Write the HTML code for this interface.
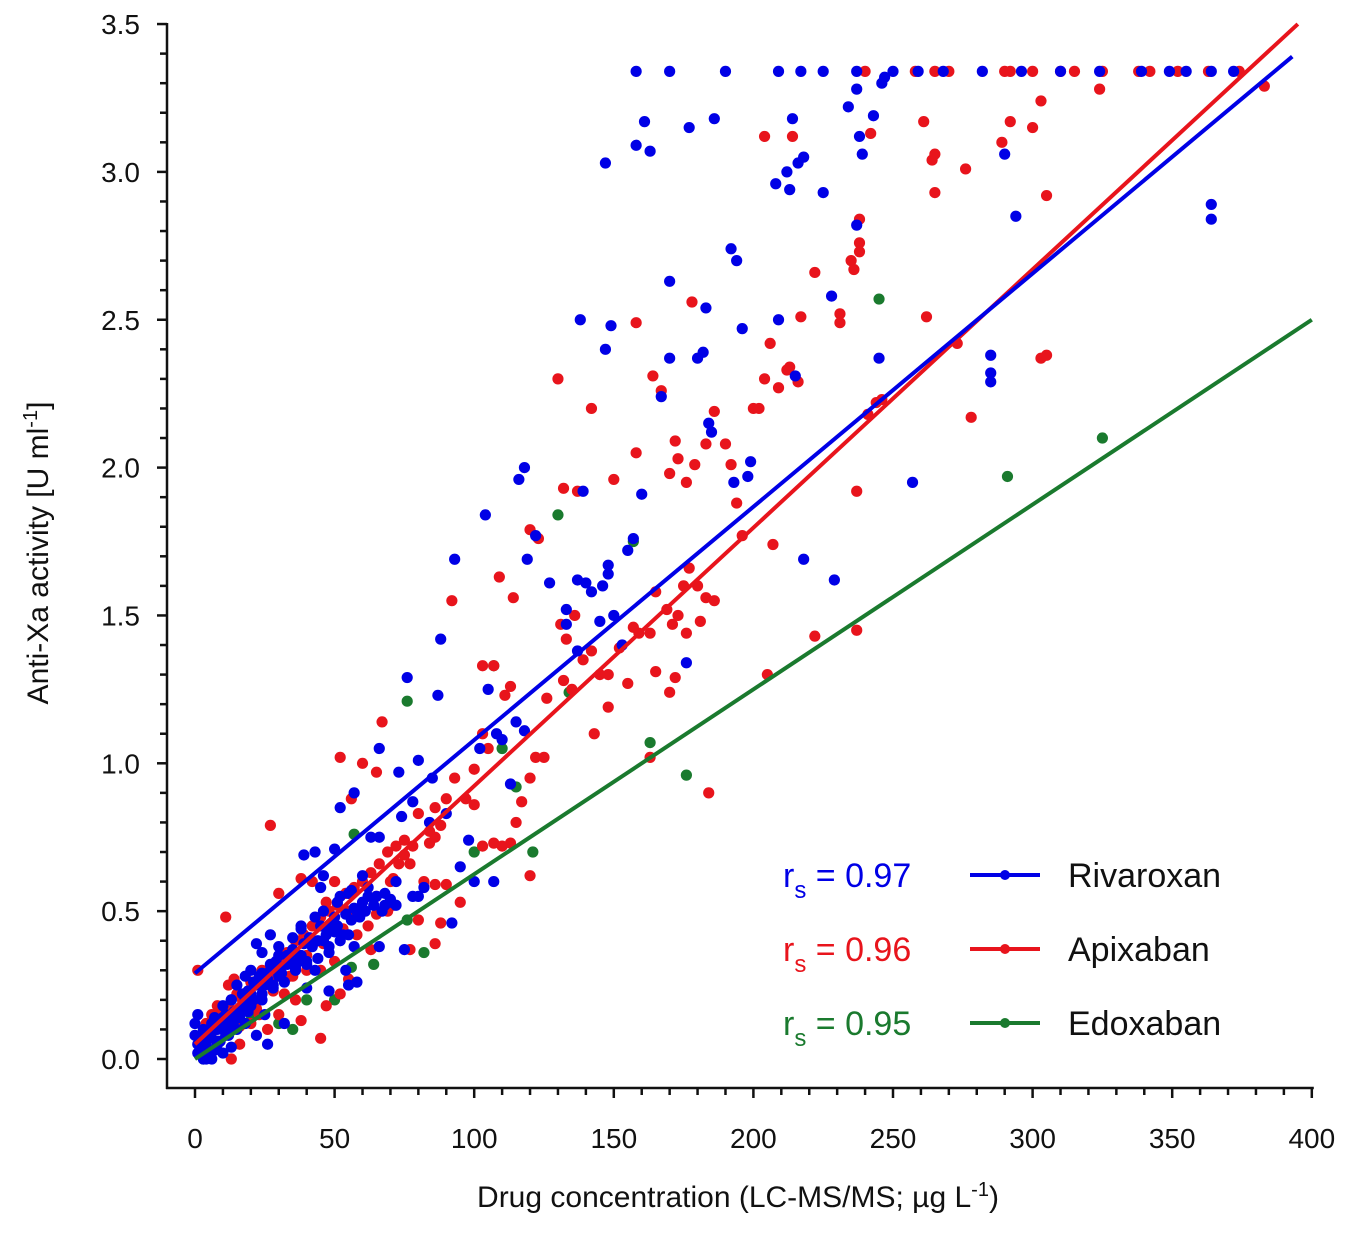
<!DOCTYPE html>
<html><head><meta charset="utf-8">
<style>
html,body{margin:0;padding:0;background:#fff;}
svg text{font-family:"Liberation Sans",Arial,sans-serif;}
</style></head>
<body>
<svg id="chart" width="1350" height="1229" viewBox="0 0 1350 1229" xmlns="http://www.w3.org/2000/svg">
<g id="marks"></g>
<g id="axes"></g>
<text transform="translate(48,553) rotate(-90)" text-anchor="middle" font-size="30" fill="#111">Anti-Xa activity [U ml<tspan baseline-shift="super" font-size="20">-1</tspan>]</text>
<text x="738" y="1207" text-anchor="middle" font-size="30" fill="#111">Drug concentration (LC-MS/MS; µg L<tspan baseline-shift="super" font-size="20">-1</tspan>)</text>
<g id="legend"></g>
</svg>
<script>
const xTicks=[0,50,100,150,200,250,300,350,400];
const yTicks=[0.0,0.5,1.0,1.5,2.0,2.5,3.0,3.5];
const seriesNames=["Rivaroxan","Apixaban","Edoxaban"];
const seriesR=["0.97","0.96","0.95"];
const colors=["#0000e6","#e8141c","#1a7a2e"];
// regression lines: [x0,y0,x1,y1]
const rivaLine=[0,0.29,393,3.39];
const apixLine=[0,0.05,395,3.5];
const edoxLine=[0,0.0,400,2.5];
const rivaX=[158,170,190,209,217,225,237,250,259,268,282,296,310,324,339,349,355,364,372,
158,161,163,147,177,186,214,212,216,218,213,225,208,234,237,238,239,237,243,246,247,290,294,364,364,285,285,285,245,257,229,218,228,215,209,196,192,194,199,198,193,170,167,170,180,182,183,185,184,138,147,149,118,116,119,104,122,127,139,137,140,142,146,148,148,155,157,160,150,145,153,137,133,133,176,93,88,87,76,102,105,108,110,115,118,113,85,80,73,66,57,52,50,43,39,46,45,63,66,74,78,84,90,92,100,107,98,95,60,62,65,68,70,72,55,52,58,50,45,47,42,38,35,30,27,24,22,20,18,30,33,36,40,43,48,52,55,57,40,48,55,58,54,15,10,13,16,20,24,28,25,32,6,3,1,2,4,7,9,11,13,5,8,12,0,0,1,3,6,10,15,18,22,26,66,75,78,
2,4,6,8,10,12,14,16,18,20,22,24,26,28,30,32,34,36,38,40,42,44,46,48,50,53,56,59,61,64,67,70,3,5,7,9,11,13,17,19,21,23,25,27,29,31,33,35,37,39,41,44,47,49,51,54,57,60,62,1,3,5,8,10,12,14,17,19,21,24,27,30,35,38,43,46,51,56,68,72,80,82];
const rivaY=[3.34,3.34,3.34,3.34,3.34,3.34,3.34,3.34,3.34,3.34,3.34,3.34,3.34,3.34,3.34,3.34,3.34,3.34,3.34,
3.09,3.17,3.07,3.03,3.15,3.18,3.18,3.0,3.03,3.05,2.94,2.93,2.96,3.22,3.28,3.12,3.06,2.82,3.19,3.3,3.32,3.06,2.85,2.89,2.84,2.38,2.32,2.29,2.37,1.95,1.62,1.69,2.58,2.31,2.5,2.47,2.74,2.7,2.02,1.97,1.95,2.63,2.24,2.37,2.37,2.39,2.54,2.12,2.15,2.5,2.4,2.48,2.0,1.96,1.69,1.84,1.77,1.61,1.92,1.62,1.61,1.58,1.6,1.67,1.64,1.72,1.76,1.91,1.5,1.48,1.4,1.38,1.52,1.47,1.34,1.69,1.42,1.23,1.29,1.05,1.25,1.1,1.08,1.14,1.11,0.93,0.95,1.01,0.97,1.05,0.9,0.85,0.71,0.7,0.69,0.62,0.58,0.75,0.75,0.82,0.87,0.8,0.83,0.46,0.6,0.6,0.74,0.65,0.62,0.58,0.55,0.56,0.54,0.52,0.56,0.55,0.5,0.48,0.45,0.42,0.39,0.45,0.37,0.38,0.42,0.36,0.39,0.3,0.28,0.28,0.32,0.31,0.33,0.3,0.36,0.4,0.42,0.38,0.24,0.23,0.25,0.26,0.3,0.25,0.18,0.2,0.15,0.22,0.2,0.25,0.15,0.12,0.12,0.1,0.05,0.02,0.0,0.03,0.06,0.08,0.04,0.07,0.1,0.12,0.08,0.12,0.15,0.0,0.0,0.02,0.1,0.12,0.08,0.05,0.38,0.37,0.55,
0.04,0.05,0.09,0.06,0.12,0.1,0.16,0.14,0.2,0.18,0.25,0.22,0.27,0.24,0.3,0.26,0.33,0.3,0.35,0.32,0.38,0.34,0.4,0.38,0.43,0.42,0.47,0.48,0.5,0.52,0.5,0.53,0.07,0.03,0.14,0.11,0.15,0.2,0.18,0.23,0.2,0.28,0.25,0.3,0.33,0.29,0.35,0.36,0.33,0.39,0.41,0.4,0.44,0.46,0.45,0.49,0.51,0.53,0.55,0.02,0.04,0.1,0.05,0.14,0.08,0.13,0.22,0.16,0.26,0.29,0.32,0.35,0.41,0.44,0.48,0.5,0.53,0.57,0.52,0.6,0.55,0.58];
const apixX=[240,258,265,270,290,292,300,310,315,325,338,342,352,363,374,383,324,
303,292,300,261,264,265,265,276,289,305,242,214,204,238,238,238,236,235,231,231,222,217,212,213,216,206,204,209,200,202,190,192,194,186,183,178,179,172,176,170,173,164,167,158,158,150,142,130,137,132,123,120,114,109,92,107,103,111,113,126,132,135,131,133,136,139,142,145,148,152,157,159,165,169,173,175,177,180,181,183,186,171,176,163,155,165,170,163,184,172,148,143,125,122,120,117,115,120,113,107,110,103,100,97,100,103,105,93,90,86,88,84,86,80,78,75,73,70,71,69,65,82,86,90,88,86,95,80,77,52,67,65,60,56,50,47,27,11,30,38,42,55,62,58,63,50,45,40,35,32,28,24,20,17,14,12,8,6,4,2,5,13,16,20,30,38,45,26,47,52,55,23,36,10,1,237,237,222,205,207,196,241,244,246,262,273,278,303,305,
3,6,9,12,15,18,21,24,27,30,33,36,39,42,45,48,51,54,57,60,63,66,69,72,75,4,8,16,22,28,34,40,46,53,59,65,71,77,84];
const apixY=[3.34,3.34,3.34,3.34,3.34,3.34,3.34,3.34,3.34,3.34,3.34,3.34,3.34,3.34,3.34,3.29,3.28,
3.24,3.17,3.15,3.17,3.04,3.06,2.93,3.01,3.1,2.92,3.13,3.12,3.12,2.84,2.76,2.73,2.67,2.7,2.52,2.49,2.66,2.51,2.33,2.34,2.29,2.42,2.3,2.27,2.2,2.2,2.08,2.01,1.88,2.19,2.08,2.56,2.01,2.09,1.95,1.98,2.03,2.31,2.26,2.49,2.05,1.96,2.2,2.3,1.92,1.93,1.76,1.79,1.56,1.63,1.55,1.33,1.33,1.23,1.26,1.22,1.28,1.25,1.47,1.42,1.5,1.35,1.38,1.3,1.3,1.39,1.46,1.44,1.58,1.52,1.5,1.6,1.66,1.6,1.48,1.56,1.55,1.47,1.44,1.44,1.27,1.31,1.24,1.02,0.9,1.29,1.19,1.1,1.02,1.02,0.95,0.87,0.8,0.62,0.73,0.73,0.72,0.72,0.86,0.88,0.98,1.1,1.05,0.95,0.88,0.85,0.79,0.77,0.75,0.83,0.72,0.69,0.66,0.6,0.52,0.5,0.49,0.6,0.59,0.59,0.46,0.39,0.53,0.47,0.37,1.02,1.14,0.97,1.0,0.88,0.6,0.53,0.79,0.48,0.56,0.61,0.6,0.5,0.45,0.42,0.37,0.33,0.3,0.3,0.28,0.22,0.27,0.29,0.26,0.2,0.27,0.25,0.18,0.15,0.12,0.06,0.02,0.0,0.05,0.12,0.15,0.13,0.07,0.1,0.18,0.22,0.27,0.15,0.2,0.1,0.3,1.92,1.45,1.43,1.3,1.74,1.77,2.18,2.22,2.23,2.51,2.42,2.17,2.37,2.38,
0.08,0.12,0.16,0.18,0.22,0.2,0.26,0.3,0.31,0.34,0.36,0.4,0.42,0.45,0.48,0.5,0.52,0.56,0.58,0.6,0.63,0.66,0.7,0.72,0.74,0.03,0.06,0.11,0.17,0.23,0.28,0.35,0.39,0.44,0.5,0.55,0.61,0.66,0.73];
const edoxX=[245,325,291,157,130,163,176,76,107,115,121,82,76,64,57,50,56,35,30,20,8,3,12,40,60,110,134,100];
const edoxY=[2.57,2.1,1.97,1.75,1.84,1.07,0.96,1.21,1.33,0.92,0.7,0.36,0.47,0.32,0.76,0.2,0.31,0.1,0.12,0.15,0.05,0.0,0.18,0.2,0.5,1.05,1.24,0.7];

const NS="http://www.w3.org/2000/svg";
const X0=195,XPX=2.792,Y0=1059,YPX=295.7;
const sx=v=>X0+v*XPX, sy=v=>Y0-v*YPX;
function mk(tag,attrs,parent){const e=document.createElementNS(NS,tag);for(const k in attrs)e.setAttribute(k,attrs[k]);parent.appendChild(e);return e;}
const marks=document.getElementById('marks'),axes=document.getElementById('axes'),legend=document.getElementById('legend');

function dots(xs,ys,c,name){
  for(let i=0;i<xs.length;i++){
    const d=mk('circle',{cx:sx(xs[i]),cy:sy(ys[i]),r:5.6,fill:c},marks);
    
    
  }
}
function line(L,c,name){
  const l=mk('line',{x1:sx(L[0]),y1:sy(L[1]),x2:sx(L[2]),y2:sy(L[3]),stroke:c,'stroke-width':4},marks);
  
  
}
dots(edoxX,edoxY,colors[2],'edoxaban');
dots(apixX,apixY,colors[1],'apixaban');
dots(rivaX,rivaY,colors[0],'rivaroxaban');
line(edoxLine,colors[2],'edoxaban');
line(apixLine,colors[1],'apixaban');
line(rivaLine,colors[0],'rivaroxaban');

// axes
const AX=167, AY=1088;
const ya=mk('line',{x1:AX,y1:sy(3.5)-1,x2:AX,y2:AY+1,stroke:'#111','stroke-width':2.5},axes);


const xa=mk('line',{x1:AX-1,y1:AY,x2:sx(400)+2,y2:AY,stroke:'#111','stroke-width':2.5},axes);


for(let k=0;k<=35;k++){const y=sy(k/10);mk('line',{x1:AX-(k%5?7:10),y1:y,x2:AX,y2:y,stroke:'#111','stroke-width':2.5},axes);}
for(let k=0;k<=40;k++){const x=sx(k*10);mk('line',{x1:x,y1:AY,x2:x,y2:AY+(k%5?7:10),stroke:'#111','stroke-width':2.5},axes);}
yTicks.forEach(v=>{const t=mk('text',{x:140,y:sy(v)+10,'text-anchor':'end','font-size':28,fill:'#111'},axes);t.textContent=v.toFixed(1);

});
xTicks.forEach(v=>{const t=mk('text',{x:sx(v),y:1148,'text-anchor':'middle','font-size':28,fill:'#111'},axes);t.textContent=v;

});

// legend
const rows=[875,949,1023];
seriesNames.forEach((n,i)=>{
  const y=rows[i];
  const r=mk('text',{x:783,y:y+12,'font-size':34,fill:colors[i]},legend);
  r.innerHTML='r<tspan font-size="24" dy="11">s</tspan><tspan dy="-11"> = '+seriesR[i]+'</tspan>';
  
  
  const l=mk('line',{x1:970,y1:y,x2:1040,y2:y,stroke:colors[i],'stroke-width':4},legend);
  
  
  mk('circle',{cx:1005,cy:y,r:5,fill:colors[i]},legend);
  const t=mk('text',{x:1068,y:y+12,'font-size':34,fill:'#111'},legend);
  t.textContent=n;
  
  
});
</script>
</body></html>
